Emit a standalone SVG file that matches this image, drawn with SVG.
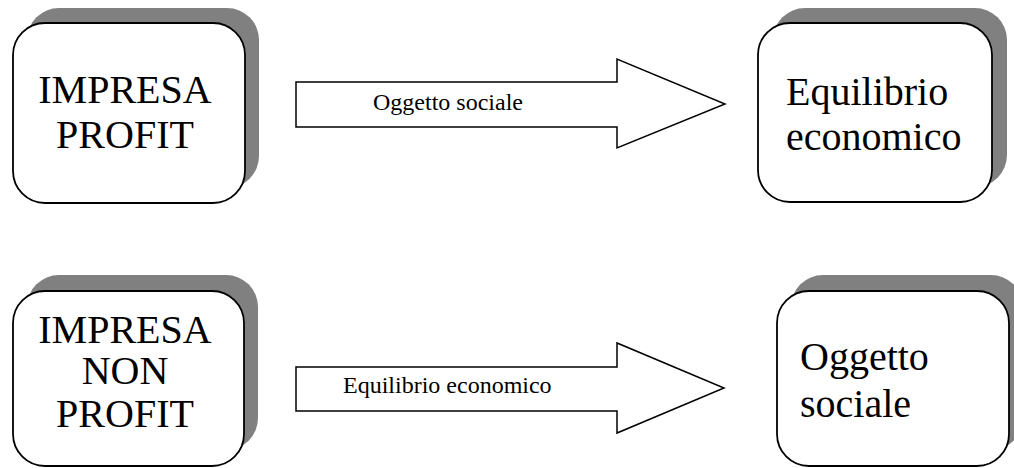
<svg xmlns="http://www.w3.org/2000/svg" width="1014" height="468" viewBox="0 0 1014 468">
<defs>
<style>
.shadow{fill:#808080;stroke:none}
.box{fill:#ffffff;stroke:#000000;stroke-width:1.8}
.arrow{fill:#ffffff;stroke:#000000;stroke-width:1.5;stroke-linejoin:miter}
.big{font-family:"Liberation Serif","Times New Roman",serif;font-size:40px;fill:#000000}
.small{font-family:"Liberation Serif","Times New Roman",serif;font-size:24px;fill:#000000}
</style>
</defs>
<rect width="1014" height="468" fill="#ffffff"/>
<g id="node-impresa-profit">
<rect class="shadow" x="27" y="8" width="232" height="180" rx="32" ry="32"/>
<rect class="box" x="13" y="23" width="232" height="180" rx="32" ry="32"/>
<text class="big" x="125" y="103" text-anchor="middle">IMPRESA</text>
<text class="big" x="125" y="148" text-anchor="middle">PROFIT</text>
</g>
<g id="node-equilibrio-economico">
<rect class="shadow" x="773" y="8" width="234" height="179" rx="32" ry="32"/>
<rect class="box" x="758" y="23" width="234" height="179" rx="32" ry="32"/>
<text class="big" x="786" y="105">Equilibrio</text>
<text class="big" x="786" y="150">economico</text>
</g>
<g id="node-impresa-non-profit">
<rect class="shadow" x="27" y="275" width="231" height="175" rx="32" ry="32"/>
<rect class="box" x="13" y="291" width="231" height="175" rx="32" ry="32"/>
<text class="big" x="125" y="343" text-anchor="middle">IMPRESA</text>
<text class="big" x="125" y="384" text-anchor="middle">NON</text>
<text class="big" x="125" y="427" text-anchor="middle">PROFIT</text>
</g>
<g id="node-oggetto-sociale">
<rect class="shadow" x="791" y="275" width="232" height="175" rx="32" ry="32"/>
<rect class="box" x="777" y="291" width="232" height="175" rx="32" ry="32"/>
<text class="big" x="800" y="370">Oggetto</text>
<text class="big" x="800" y="417">sociale</text>
</g>
<g id="connectors">
<g id="arrow-1">
<polygon class="arrow" points="296,82 617,82 617,59 725,104 617,148 617,127 296,127"/>
<text class="small" x="373" y="110">Oggetto sociale</text>
</g>
<g id="arrow-2">
<polygon class="arrow" points="296,367 617,367 617,343 724,388 617,433 617,411 296,411"/>
<text class="small" x="343" y="393">Equilibrio economico</text>
</g>
</g>
</svg>
